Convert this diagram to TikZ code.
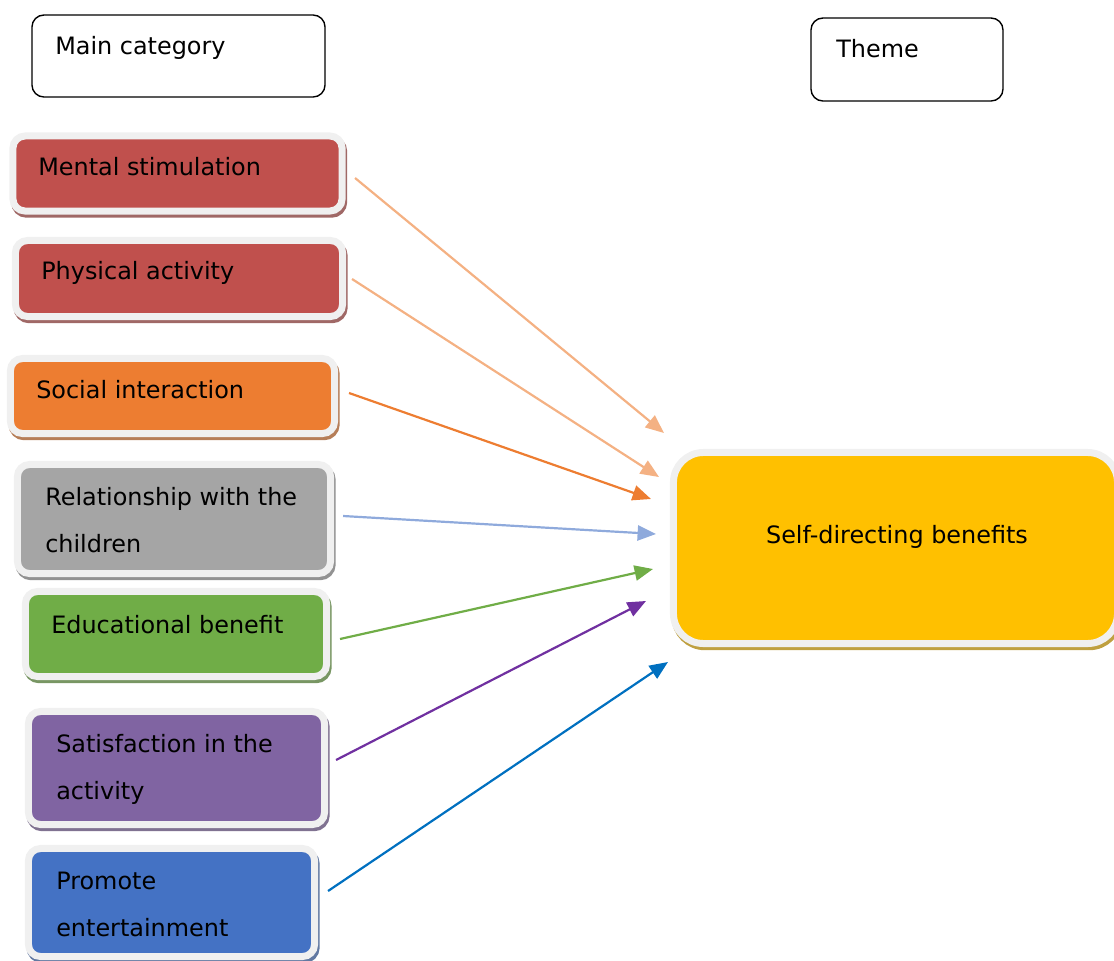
\documentclass[tikz,border=0pt]{standalone}
\usepackage{fontspec}
\setmainfont{DejaVu Sans}
\usetikzlibrary{arrows.meta}

\definecolor{framegray}{HTML}{F0F0F0}
\definecolor{boxred}{HTML}{C0504D}
\definecolor{boxorange}{HTML}{ED7D31}
\definecolor{boxgray}{HTML}{A5A5A5}
\definecolor{boxgreen}{HTML}{70AD47}
\definecolor{boxpurple}{HTML}{8064A2}
\definecolor{boxblue}{HTML}{4472C4}
\definecolor{boxgold}{HTML}{FFC000}
\definecolor{arrpeach}{HTML}{F4B183}
\definecolor{arrorange}{HTML}{ED7D31}
\definecolor{arrblue}{HTML}{8FAADC}
\definecolor{arrgreen}{HTML}{70AD47}
\definecolor{arrpurple}{HTML}{7030A0}
\definecolor{arrdeep}{HTML}{0070C0}

\begin{document}
\begin{tikzpicture}[x=0.025cm, y=-0.025cm,
    catbox/.style={draw=framegray, line width=0.175cm, fill=#1, rounded corners=0.3cm,
        preaction={draw=#1!50!gray, line width=0.175cm,
            transform canvas={shift={(0.04cm,-0.08cm)}}}},
    headbox/.style={draw=black, line width=0.035cm, rounded corners=0.3cm},
    txt/.style={anchor=base west, inner sep=0pt, align=left,
        font=\fontsize{17}{33.4}\selectfont},
    arr/.style={line width=0.055cm, -{Triangle[length=0.46cm, width=0.38cm]}}]

    \useasboundingbox (0,0) rectangle (1114,961);
    \clip (0,0) rectangle (1114,961);

    % headings
    \node[headbox, minimum width=7.325cm, minimum height=2.05cm] (main) at (178.5,56) {};
    \node[txt] (main-t) at (55,54) {Main category};
    \node[headbox, minimum width=4.8cm, minimum height=2.075cm] (theme) at (907,59.5) {};
    \node[txt] (theme-t) at (836,57) {Theme};

    % main categories
    \node[catbox=boxred, minimum width=8.225cm, minimum height=1.875cm] (ms) at (177.5,173.5) {};
    \node[txt] (ms-t) at (38,175) {Mental stimulation};

    \node[catbox=boxred, minimum width=8.175cm, minimum height=1.9cm] (pa) at (179,278.5) {};
    \node[txt] (pa-t) at (41,279) {Physical activity};

    \node[catbox=boxorange, minimum width=8.1cm, minimum height=1.875cm] (si) at (172.5,396) {};
    \node[txt] (si-t) at (36,398) {Social interaction};

    \node[catbox=boxgray, minimum width=7.825cm, minimum height=2.725cm] (rc) at (174,519) {};
    \node[txt] (rc-t) at (45,552) {Relationship with the\\children};

    \node[catbox=boxgreen, minimum width=7.525cm, minimum height=2.125cm] (eb) at (176,634) {};
    \node[txt] (eb-t) at (51,633) {Educational benefit};

    \node[catbox=boxpurple, minimum width=7.4cm, minimum height=2.825cm] (sa) at (176.5,768) {};
    \node[txt] (sa-t) at (56,799) {Satisfaction in the\\activity};

    \node[catbox=boxblue, minimum width=7.15cm, minimum height=2.7cm] (pe) at (171.5,902.5) {};
    \node[txt] (pe-t) at (56,936) {Promote\\entertainment};

    % theme
    \node[catbox=boxgold, rounded corners=0.75cm, minimum width=11.1cm, minimum height=4.775cm] (sd) at (895.5,548) {};
    \node[inner sep=0pt, font=\fontsize{17}{20}\selectfont] (sd-t) at (897,537) {Self-directing benefits};

    % arrow tips
    \coordinate (t1) at (664,433);
    \coordinate (t2) at (659,477);
    \coordinate (t3) at (651,499);
    \coordinate (t4) at (656,534);
    \coordinate (t5) at (653,569);
    \coordinate (t6) at (646,601);
    \coordinate (t7) at (668,662);

    \draw[arr, arrpeach] ([shift={(9.5,4.5)}]ms.east) -- (t1);
    \draw[arr, arrpeach] ([shift={(6,0.5)}]pa.east) -- (t2);
    \draw[arr, arrorange] ([shift={(11,-3)}]si.east) -- (t3);
    \draw[arr, arrblue] ([shift={(9,-3)}]rc.east) -- (t4);
    \draw[arr, arrgreen] ([shift={(10,5)}]eb.east) -- (t5);
    \draw[arr, arrpurple] ([shift={(8,-8)}]sa.east) -- (t6);
    \draw[arr, arrdeep] ([shift={(10,-11.5)}]pe.east) -- (t7);
\end{tikzpicture}
\end{document}
